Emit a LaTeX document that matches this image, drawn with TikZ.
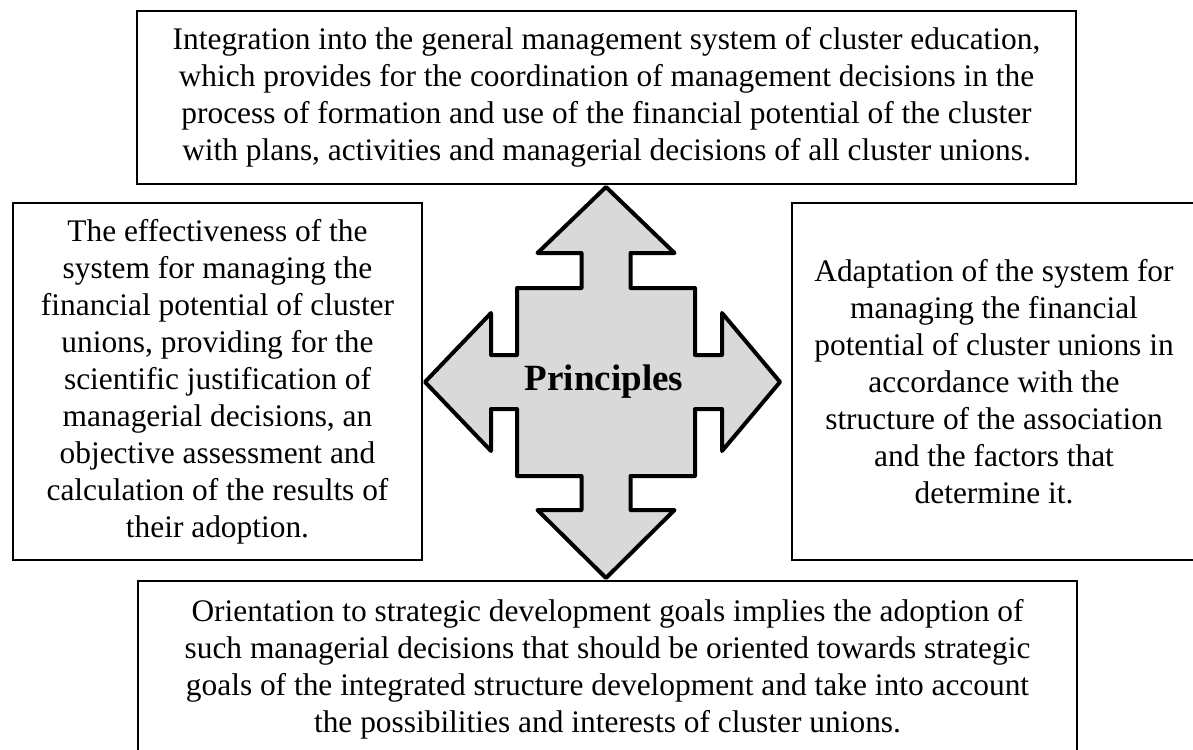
\documentclass[tikz,border=0pt]{standalone}
\usepackage{fontspec}
\setmainfont{Liberation Serif}
\definecolor{arrowfill}{RGB}{217, 217, 217}

\begin{document}
\begin{tikzpicture}[x=1pt, y=-1pt,
		principle/.style={draw, line width=2.6pt, align=center, inner sep=0pt,
			font=\fontsize{31.4}{37}\selectfont},
		crossarrow/.style={draw, fill=arrowfill, line width=4pt, line join=round}]
			\useasboundingbox (0,0) rectangle (1193,749);
			\clip (0,0) rectangle (1193,749);

			% cadres
			\node[principle, minimum width=939, minimum height=173] (top) at (606.5,97.5)
				{Integration into the general management system of cluster education,\\
				which provides for the coordination of management decisions in the\\
				process of formation and use of the financial potential of the cluster\\
				with plans, activities and managerial decisions of all cluster unions.};
			\node[principle, minimum width=409, minimum height=357] (left) at (217.5,381.5)
				{The effectiveness of the\\ system for managing the\\ financial potential of cluster\\
				unions, providing for the\\ scientific justification of\\ managerial decisions, an\\
				objective assessment and\\ calculation of the results of\\ their adoption.};
			\node[principle, minimum width=404, minimum height=357] (right) at (994,381.5)
				{Adaptation of the system for\\ managing the financial\\ potential of cluster unions in\\
				accordance with the\\ structure of the association\\ and the factors that\\ determine it.};
			\node[principle, minimum width=939, minimum height=177] (bottom) at (607.5,669.5)
				{Orientation to strategic development goals implies the adoption of\\
				such managerial decisions that should be oriented towards strategic\\
				goals of the integrated structure development and take into account\\
				the possibilities and interests of cluster unions.};

			% fleche
			\draw[crossarrow] (606,187) -- (674.5,253) -- (630.5,253) -- (630.5,288) -- (695,288)
				-- (695,355) -- (722,355) -- (722,313) -- (780,382) -- (722,451) -- (722,409)
				-- (695,409) -- (695,476) -- (630.5,476) -- (630.5,510) -- (674.5,510)
				-- (606,578) -- (537.5,510) -- (581.5,510) -- (581.5,476) -- (517,476)
				-- (517,409) -- (491,409) -- (491,451) -- (425,382) -- (491,313) -- (491,355)
				-- (517,355) -- (517,288) -- (581.5,288) -- (581.5,253) -- (537.5,253) -- cycle;
			\node[font=\fontsize{37}{40}\selectfont\bfseries] (centre) at (604,382) {Principles};
		\end{tikzpicture}
\end{document}
